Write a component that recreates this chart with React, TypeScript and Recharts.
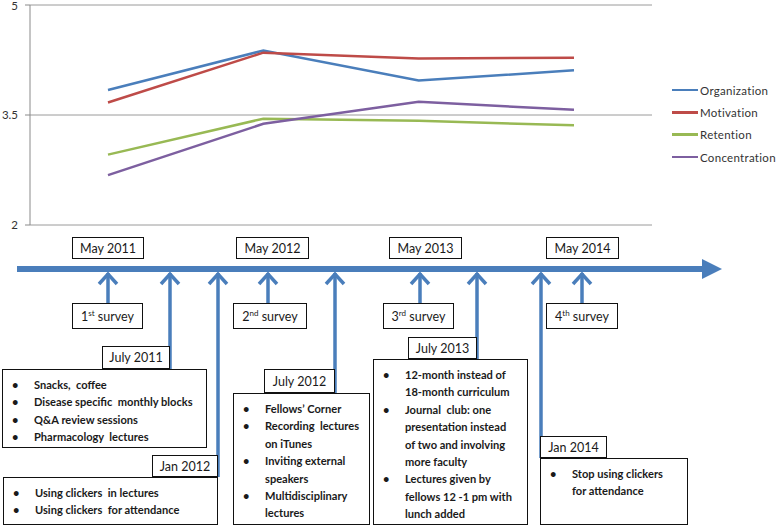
import { CartesianGrid, Line, LineChart, XAxis, YAxis } from "recharts";

// survey scores (mean, 2-5 scale)
const SURVEY_DATES = ["May 2011", "May 2012", "May 2013", "May 2014"];
const ORGANIZATION = [3.84, 4.38, 3.97, 4.11];
const MOTIVATION = [3.67, 4.35, 4.27, 4.28];
const RETENTION = [2.96, 3.45, 3.42, 3.36];
const CONCENTRATION = [2.68, 3.38, 3.68, 3.57];
const Y_TICKS = [2, 3.5, 5];

const SURVEY_ORDINALS = [
  ["1", "st"],
  ["2", "nd"],
  ["3", "rd"],
  ["4", "th"],
];

const CHANGE_DATES = ["July 2011", "Jan 2012", "July 2012", "July 2013", "Jan 2014"];
const CHANGE_ITEMS: string[][][] = [
  [["Snacks,  coffee"], ["Disease specific  monthly blocks"], ["Q&A review sessions"], ["Pharmacology  lectures"]],
  [["Using clickers  in lectures"], ["Using clickers  for attendance"]],
  [["Fellows’ Corner"], ["Recording  lectures", "on iTunes"], ["Inviting external", "speakers"], ["Multidisciplinary", "lectures"]],
  [
    ["12-month instead of", "18-month curriculum"],
    ["Journal  club: one", "presentation instead", "of two and involving", "more faculty"],
    ["Lectures given by", "fellows 12 -1 pm with", "lunch added"],
  ],
  [["Stop using clickers", "for attendance"]],
];

const SERIES = [
  { key: "organization", name: "Organization", color: "#4A7EBB" },
  { key: "motivation", name: "Motivation", color: "#BE4B48" },
  { key: "retention", name: "Retention", color: "#98B954" },
  { key: "concentration", name: "Concentration", color: "#7D5FA0" },
];

const data = SURVEY_DATES.map((date, i) => ({
  date,
  organization: ORGANIZATION[i],
  motivation: MOTIVATION[i],
  retention: RETENTION[i],
  concentration: CONCENTRATION[i],
}));

// diagram layout (pixels)
const BLUE = "#4A7EBB";
const LINE_Y = 269;
const SURVEY_LAYOUT = [
  { x: 108, top: { x: 72, w: 72 }, bot: { x: 72, w: 71 } },
  { x: 268, top: { x: 236, w: 73 }, bot: { x: 233, w: 74 } },
  { x: 420, top: { x: 389, w: 73 }, bot: { x: 383, w: 71 } },
  { x: 582, top: { x: 546, w: 73 }, bot: { x: 546, w: 72 } },
];
const CHANGE_LAYOUT = [
  { x: 170, label: { x: 102, y: 346, w: 68, h: 23 }, box: { x: 2, y: 369, w: 205, h: 79 } },
  { x: 218, label: { x: 152, y: 455, w: 66, h: 22 }, box: { x: 3, y: 477, w: 215, h: 48 } },
  { x: 335, label: { x: 264, y: 369, w: 71, h: 24 }, box: { x: 233, y: 393, w: 137, h: 132 } },
  { x: 477, label: { x: 408, y: 337, w: 69, h: 22 }, box: { x: 373, y: 359, w: 155, h: 166 } },
  { x: 541, label: { x: 540, y: 436, w: 67, h: 22 }, box: { x: 540, y: 458, w: 148, h: 67 } },
];

const FONT = "Lato, 'Open Sans', sans-serif";

const boxStyle = (x: number, y: number, w: number, h: number): React.CSSProperties => ({
  position: "absolute",
  left: x,
  top: y,
  width: w,
  height: h,
  boxSizing: "border-box",
  border: "1.3px solid #111",
  background: "#fff",
});

const labelStyle = (x: number, y: number, w: number, h: number): React.CSSProperties => ({
  ...boxStyle(x, y, w, h),
  display: "flex",
  alignItems: "center",
  justifyContent: "center",
  fontSize: 12.5,
  color: "#1a1a1a",
});

function UpArrow({ x, y1, y2 }: { x: number; y1: number; y2: number }) {
  return (
    <g stroke={BLUE} strokeWidth={3.5} fill="none">
      <line x1={x} y1={y1 + 1} x2={x} y2={y2} />
      <polyline points={`${x - 9},${y1 + 12} ${x},${y1 + 2} ${x + 9},${y1 + 12}`} strokeLinejoin="miter" />
    </g>
  );
}

export default function App() {
  const lineTop = LINE_Y + 3;
  return (
    <div style={{ position: "relative", width: 778, height: 527, background: "#fff", fontFamily: FONT, overflow: "hidden" }}>
      <style>{`body{margin:0}`}</style>
      <div style={{ position: "absolute", left: 0, top: 0 }}>
        <LineChart width={778} height={240} data={data} margin={{ top: 5, right: 126, bottom: 15, left: 0 }}>
          <CartesianGrid vertical={false} stroke="#9a9a9a" strokeWidth={1} />
          <XAxis dataKey="date" hide padding={{ left: 78, right: 78 }} />
          <YAxis
            domain={[2, 5]}
            ticks={Y_TICKS}
            width={30}
            stroke="#8a8a8a"
            tickSize={5}
            tickMargin={7}
            tick={{ fontFamily: FONT, fontSize: 11.5, fill: "#333" }}
          />
          {SERIES.map((s) => (
            <Line
              key={s.key}
              type="linear"
              dataKey={s.key}
              name={s.name}
              stroke={s.color}
              strokeWidth={2.5}
              dot={false}
              isAnimationActive={false}
            />
          ))}
        </LineChart>
      </div>

      {/* legend */}
      <div style={{ position: "absolute", left: 672, top: 79, fontSize: 11.5, color: "#333" }}>
        {SERIES.map((s) => (
          <div key={s.key} style={{ display: "flex", alignItems: "center", height: 22.3 }}>
            <span style={{ display: "inline-block", width: 26, height: 2.5, background: s.color, marginRight: 2 }} />
            <span style={{ letterSpacing: 0.3 }}>{s.name}</span>
          </div>
        ))}
      </div>

      {/* timeline arrows */}
      <svg width={778} height={527} style={{ position: "absolute", left: 0, top: 0 }}>
        <line x1={17} y1={LINE_Y} x2={704} y2={LINE_Y} stroke={BLUE} strokeWidth={6} />
        <polygon points={`702,${LINE_Y - 10} 722,${LINE_Y} 702,${LINE_Y + 10}`} fill={BLUE} />
        {SURVEY_LAYOUT.map((s, i) => (
          <UpArrow key={`s${i}`} x={s.x} y1={lineTop} y2={303} />
        ))}
        {CHANGE_LAYOUT.map((c, i) => (
          <UpArrow key={`c${i}`} x={c.x} y1={lineTop} y2={c.label.y + c.label.h} />
        ))}
      </svg>

      {SURVEY_DATES.map((d, i) => {
        const s = SURVEY_LAYOUT[i].top;
        return (
          <div key={d} style={labelStyle(s.x, 237, s.w, 22)}>
            {d}
          </div>
        );
      })}
      {SURVEY_ORDINALS.map(([n, suf], i) => {
        const s = SURVEY_LAYOUT[i].bot;
        return (
          <div key={n} style={labelStyle(s.x, 303, s.w, 26)}>
            <span>
              {n}
              <span style={{ fontSize: 8, position: "relative", top: -5 }}>{suf}</span> survey
            </span>
          </div>
        );
      })}

      {CHANGE_DATES.map((d, i) => {
        const c = CHANGE_LAYOUT[i];
        return (
          <div key={d}>
            <div style={{ ...boxStyle(c.box.x, c.box.y, c.box.w, c.box.h), padding: "6px 0 0 0" }}>
              {CHANGE_ITEMS[i].map((item, j) => (
                <div key={j} style={{ position: "relative", paddingLeft: 31, fontSize: 11.1, fontWeight: 700, lineHeight: "17.4px", color: "#1a1a1a", whiteSpace: "pre" }}>
                  <span style={{ position: "absolute", left: 9, top: 0 }}>•</span>
                  {item.map((ln, k) => (
                    <div key={k}>{ln}</div>
                  ))}
                </div>
              ))}
            </div>
            <div style={labelStyle(c.label.x, c.label.y, c.label.w, c.label.h)}>{d}</div>
          </div>
        );
      })}
    </div>
  );
}
